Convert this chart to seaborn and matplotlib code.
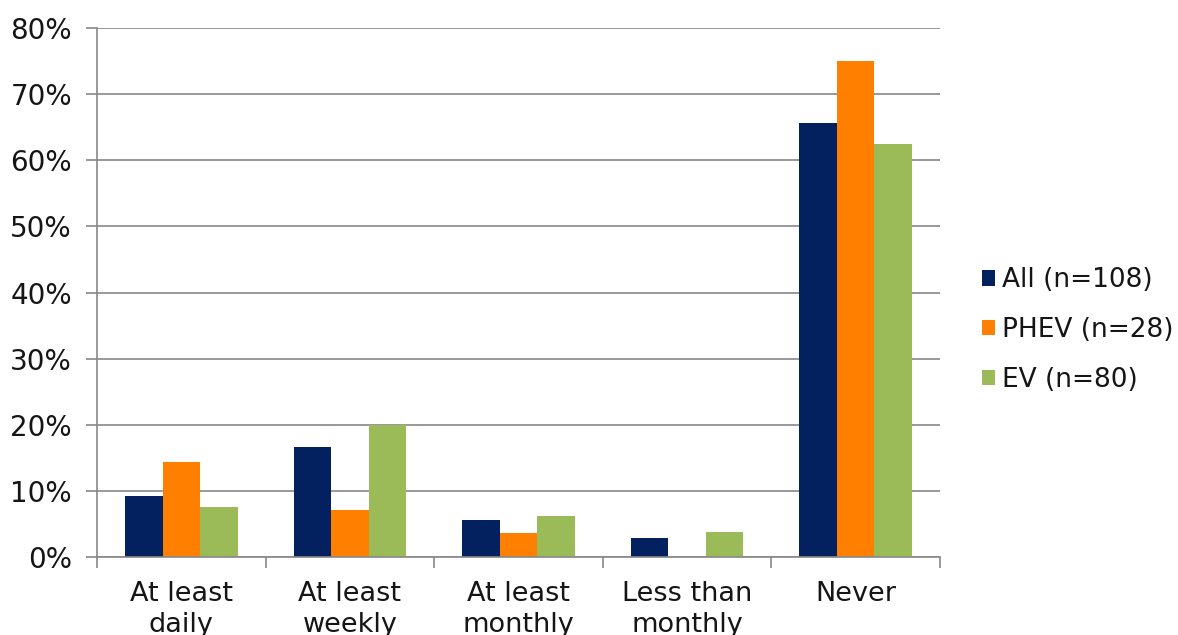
import matplotlib
matplotlib.use("Agg")
import matplotlib.pyplot as plt
import seaborn as sns
import pandas as pd
import numpy as np
from matplotlib.ticker import FixedLocator, PercentFormatter

categories = ["At least\ndaily", "At least\nweekly", "At least\nmonthly", "Less than\nmonthly", "Never"]
series = ["All (n=108)", "PHEV (n=28)", "EV (n=80)"]
all_vals = [9.3, 16.7, 5.6, 2.8, 65.7]
phev_vals = [14.3, 7.1, 3.6, 0.0, 75.0]
ev_vals = [7.5, 20.0, 6.25, 3.75, 62.5]
colors = ["#03215E", "#FF8000", "#9BBB59"]

rows = []
for s, vals in zip(series, [all_vals, phev_vals, ev_vals]):
    for c, v in zip(categories, vals):
        rows.append({"cat": c, "series": s, "val": v})
df = pd.DataFrame(rows)

sns.set_theme(style="white")
plt.rcParams['font.family'] = ['DejaVu Sans']

fig = plt.figure(figsize=(11.78, 6.35), dpi=100)
ax = fig.add_axes([97/1178, 78/635, (940-97)/1178, (557-28)/635])

sns.barplot(data=df, x="cat", y="val", hue="series", order=categories,
            hue_order=series, palette=colors, width=0.667, gap=0,
            saturation=1, ax=ax, edgecolor="none", linewidth=0)

ax.set_ylim(0, 80)
ax.set_xlim(-0.5, len(categories) - 0.5)
ax.set_yticks(np.arange(0, 81, 10))
ax.yaxis.set_major_formatter(PercentFormatter(decimals=0))
ax.grid(axis="y", color="#888888", linewidth=1.2)
ax.set_axisbelow(True)
ax.set_xlabel("")
ax.set_ylabel("")

for s in ["top", "right"]:
    ax.spines[s].set_visible(False)
for s in ["left", "bottom"]:
    ax.spines[s].set_color("#888888")
    ax.spines[s].set_linewidth(1.2)

txtc = "#151515"
ax.tick_params(axis="y", which="major", length=8, color="#888888", width=1.2,
               labelsize=20, pad=10, left=True, labelcolor=txtc)
ax.xaxis.set_minor_locator(FixedLocator(np.arange(-0.5, len(categories), 1.0)))
ax.tick_params(axis="x", which="minor", length=8, color="#888888", width=1.2, bottom=True)
ax.tick_params(axis="x", which="major", length=0, labelsize=19.5, pad=17, labelcolor=txtc)
for lbl in ax.get_xticklabels():
    lbl.set_linespacing(1.25)

leg = fig.legend(*ax.get_legend_handles_labels(), loc="center left",
                 bbox_to_anchor=(958/1178, 1 - 330/635), frameon=False,
                 fontsize=19, handlelength=0.52, handleheight=0.52, handletextpad=0.25,
                 labelspacing=0.9)
for t in leg.get_texts():
    t.set_color(txtc)
ax.get_legend().remove()

fig.savefig("out.png", dpi=100)
